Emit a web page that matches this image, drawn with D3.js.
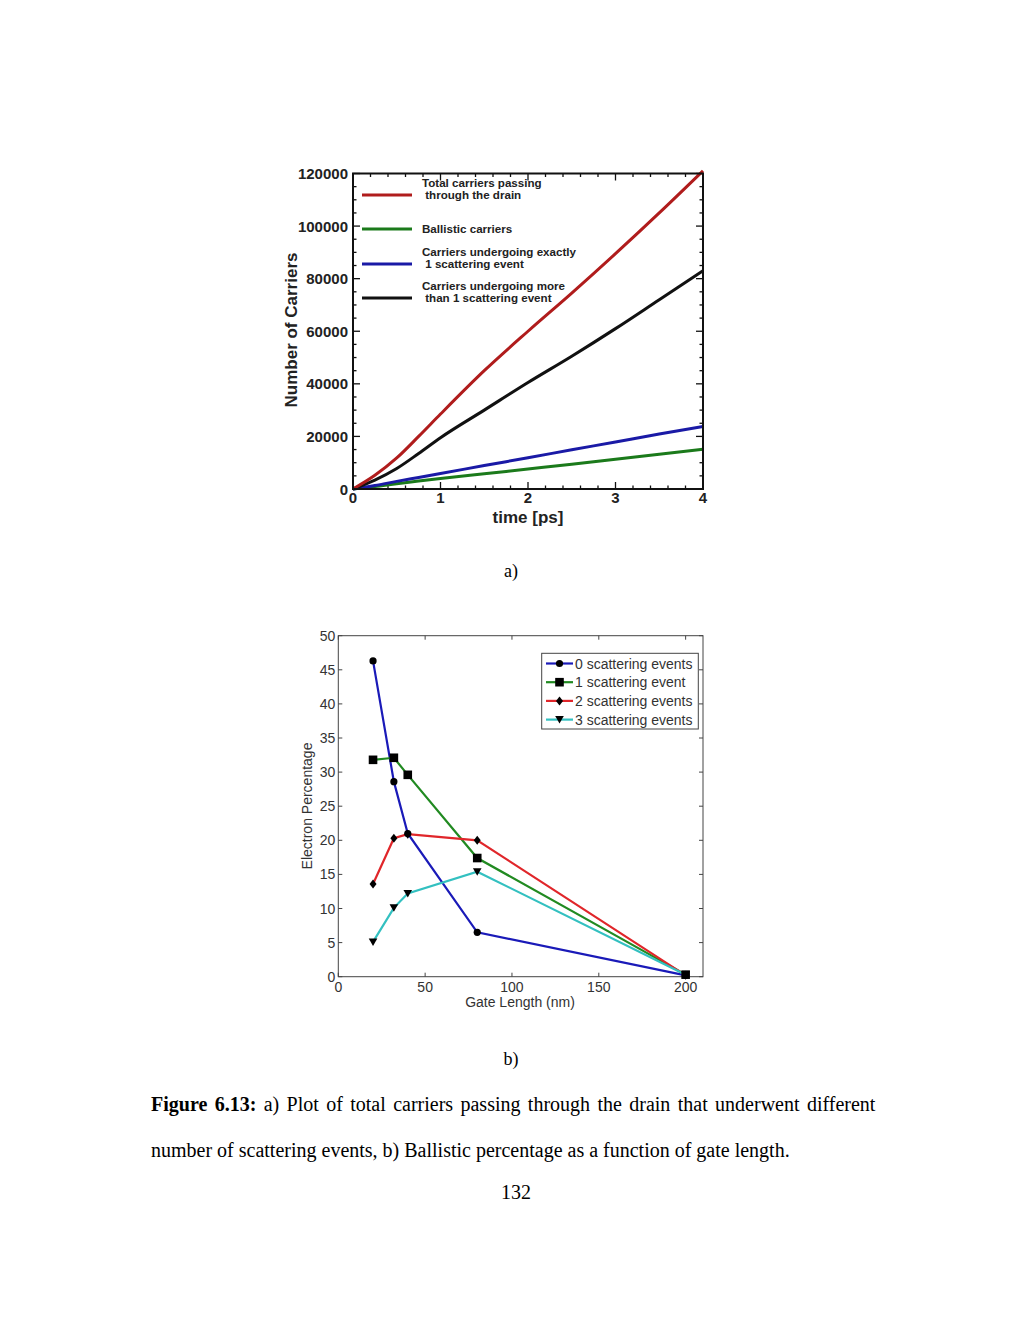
<!DOCTYPE html>
<html><head><meta charset="utf-8">
<script src="https://cdn.jsdelivr.net/npm/d3@7"></script>
<style>html,body{margin:0;padding:0;background:#fff;}svg{display:block;}</style>
</head><body>
<svg id="c" width="1024" height="1326"></svg>
<script>
// ---- Chart a) data ----
const timePs = [0, 0.25, 0.5, 0.75, 1, 1.5, 2, 2.5, 3, 3.5, 4];
const totalCarriers = [0, 5200, 11800, 20000, 28500, 45000, 60000, 74500, 89500, 105000, 121000];
const ballisticCarriers = [0, 900, 2000, 3000, 4000, 5800, 7600, 9400, 11300, 13200, 15100];
const oneScatterCarriers = [0, 1300, 2900, 4400, 5900, 8900, 11900, 14900, 17900, 20900, 23800];
const multiScatterCarriers = [0, 3400, 7800, 13500, 19500, 30000, 40500, 50500, 61000, 72000, 83000];
const aXTicks = [0, 1, 2, 3, 4];
const aYTicks = [0, 20000, 40000, 60000, 80000, 100000, 120000];
const aLegend = [
  ["Total carriers passing", " through the drain"],
  ["Ballistic carriers"],
  ["Carriers undergoing exactly", " 1 scattering event"],
  ["Carriers undergoing more", " than 1 scattering event"]
];

// ---- Chart b) data ----
const gateLength = [20, 32, 40, 80, 200];
const scat0 = [46.3, 28.6, 21.0, 6.5, 0.2];
const scat1 = [31.8, 32.1, 29.6, 17.4, 0.3];
const scat2 = [13.6, 20.3, 20.9, 20.0, 0.2];
const scat3 = [5.1, 10.1, 12.2, 15.4, 0.3];
const bXTicks = [0, 50, 100, 150, 200];
const bYTicks = [0, 5, 10, 15, 20, 25, 30, 35, 40, 45, 50];
const bLegend = ["0 scattering events", "1 scattering event", "2 scattering events", "3 scattering events"];

const svg = d3.select("#c");

// ================= Chart a =================
(function(){
  const L = 353, R = 703, T = 173.5, B = 489;
  const x = d3.scaleLinear().domain([0, 4]).range([L, R]);
  const y = d3.scaleLinear().domain([0, 120000]).range([B, T]);
  const g = svg.append("g");
  const font = "'Liberation Sans', Arial, sans-serif";

  const minorX = d3.range(0, 4.0001, 0.2);
  const minorY = d3.range(0, 120001, 5000);
  minorX.forEach(v => {
    const major = Math.abs(v - Math.round(v)) < 1e-6;
    const len = major ? 7 : 3.5;
    g.append("line").attr("x1", x(v)).attr("x2", x(v)).attr("y1", B).attr("y2", B - len).attr("stroke", "#111").attr("stroke-width", 1.3);
    g.append("line").attr("x1", x(v)).attr("x2", x(v)).attr("y1", T).attr("y2", T + len).attr("stroke", "#111").attr("stroke-width", 1.3);
  });
  minorY.forEach(v => {
    const major = v % 20000 === 0;
    const len = major ? 7 : 3.5;
    g.append("line").attr("y1", y(v)).attr("y2", y(v)).attr("x1", L).attr("x2", L + len).attr("stroke", "#111").attr("stroke-width", 1.3);
    g.append("line").attr("y1", y(v)).attr("y2", y(v)).attr("x1", R).attr("x2", R - len).attr("stroke", "#111").attr("stroke-width", 1.3);
  });

  const series = [
    {v: ballisticCarriers, c: "#1b7a1b"},
    {v: oneScatterCarriers, c: "#1a1aa6"},
    {v: multiScatterCarriers, c: "#111111"},
    {v: totalCarriers, c: "#b01c1c"}
  ];
  const line = d3.line().x((d,i) => x(timePs[i])).y(d => y(d)).curve(d3.curveMonotoneX);
  series.forEach(s => {
    g.append("path").datum(s.v).attr("d", line).attr("fill", "none").attr("stroke", s.c).attr("stroke-width", 3);
  });

  g.append("rect").attr("x", L).attr("y", T).attr("width", R - L).attr("height", B - T)
    .attr("fill", "none").attr("stroke", "#111").attr("stroke-width", 2);

  aXTicks.forEach(v => {
    g.append("text").attr("x", x(v)).attr("y", 503).attr("text-anchor", "middle")
      .attr("font-family", font).attr("font-weight", "bold").attr("font-size", 15).attr("fill", "#222").text(v);
  });
  aYTicks.forEach(v => {
    g.append("text").attr("x", 348).attr("y", y(v) + 5.5).attr("text-anchor", "end")
      .attr("font-family", font).attr("font-weight", "bold").attr("font-size", 15).attr("fill", "#222").text(v);
  });
  g.append("text").attr("x", 528).attr("y", 523).attr("text-anchor", "middle")
    .attr("font-family", font).attr("font-weight", "bold").attr("font-size", 17).attr("fill", "#222").text("time [ps]");
  g.append("text").attr("transform", "translate(297,330) rotate(-90)").attr("text-anchor", "middle")
    .attr("font-family", font).attr("font-weight", "bold").attr("font-size", 17).attr("fill", "#222").text("Number of Carriers");

  const legColors = ["#b01c1c", "#1b7a1b", "#1a1aa6", "#111111"];
  const legLineY = [195, 229, 264, 298];
  aLegend.forEach((lines, i) => {
    g.append("line").attr("x1", 362).attr("x2", 412).attr("y1", legLineY[i]).attr("y2", legLineY[i])
      .attr("stroke", legColors[i]).attr("stroke-width", 3);
    const firstY = lines.length === 2 ? legLineY[i] - 8 : legLineY[i] + 4;
    lines.forEach((t, j) => {
      g.append("text").attr("x", 422).attr("y", firstY + j * 11.5)
        .attr("font-family", font).attr("font-weight", "bold").attr("font-size", 11.6).attr("fill", "#222")
        .attr("xml:space", "preserve").style("white-space", "pre").text(t);
    });
  });
})();

// ================= Chart b =================
(function(){
  const L = 338.3, R = 703, T = 635.7, B = 976.7;
  const x = d3.scaleLinear().domain([0, 210]).range([L, R]);
  const y = d3.scaleLinear().domain([0, 50]).range([B, T]);
  const g = svg.append("g");
  const font = "'Liberation Sans', Arial, sans-serif";
  const ax = "#444";

  g.append("rect").attr("x", L).attr("y", T).attr("width", R - L).attr("height", B - T)
    .attr("fill", "#fff").attr("stroke", ax).attr("stroke-width", 1);

  bXTicks.forEach(v => {
    g.append("line").attr("x1", x(v)).attr("x2", x(v)).attr("y1", B).attr("y2", B - 4).attr("stroke", ax);
    g.append("line").attr("x1", x(v)).attr("x2", x(v)).attr("y1", T).attr("y2", T + 4).attr("stroke", ax);
    g.append("text").attr("x", x(v)).attr("y", 992).attr("text-anchor", "middle")
      .attr("font-family", font).attr("font-size", 14).attr("fill", "#333").text(v);
  });
  bYTicks.forEach(v => {
    g.append("line").attr("y1", y(v)).attr("y2", y(v)).attr("x1", L).attr("x2", L + 4).attr("stroke", ax);
    g.append("line").attr("y1", y(v)).attr("y2", y(v)).attr("x1", R).attr("x2", R - 4).attr("stroke", ax);
    g.append("text").attr("x", L - 3).attr("y", y(v) + 5).attr("text-anchor", "end")
      .attr("font-family", font).attr("font-size", 14).attr("fill", "#333").text(v);
  });
  g.append("text").attr("x", 520).attr("y", 1007).attr("text-anchor", "middle")
    .attr("font-family", font).attr("font-size", 14).attr("fill", "#333").text("Gate Length (nm)");
  g.append("text").attr("transform", "translate(312,806) rotate(-90)").attr("text-anchor", "middle")
    .attr("font-family", font).attr("font-size", 14).attr("fill", "#333").text("Electron Percentage");

  const sers = [
    {v: scat0, c: "#1a1ab8", m: "circle"},
    {v: scat1, c: "#218a21", m: "square"},
    {v: scat2, c: "#e0262a", m: "diamond"},
    {v: scat3, c: "#33c0c0", m: "tri"}
  ];
  const line = d3.line().x((d,i) => x(gateLength[i])).y(d => y(d));
  function marker(sel, type, cx, cy) {
    if (type === "circle") sel.append("circle").attr("cx", cx).attr("cy", cy).attr("r", 3.6).attr("fill", "#000");
    else if (type === "square") sel.append("rect").attr("x", cx - 4.3).attr("y", cy - 4.3).attr("width", 8.6).attr("height", 8.6).attr("fill", "#000");
    else if (type === "diamond") sel.append("path").attr("d", `M${cx},${cy-4.5}L${cx+3.5},${cy}L${cx},${cy+4.5}L${cx-3.5},${cy}Z`).attr("fill", "#000");
    else sel.append("path").attr("d", `M${cx-4.3},${cy-3.5}L${cx+4.3},${cy-3.5}L${cx},${cy+4}Z`).attr("fill", "#000");
  }
  sers.forEach(s => {
    g.append("path").datum(s.v).attr("d", line).attr("fill", "none").attr("stroke", s.c).attr("stroke-width", 2.2);
  });
  sers.forEach(s => {
    s.v.forEach((d, i) => marker(g, s.m, x(gateLength[i]), y(d)));
  });

  g.append("rect").attr("x", 541.7).attr("y", 653.3).attr("width", 156.6).attr("height", 75.7)
    .attr("fill", "#fff").attr("stroke", ax).attr("stroke-width", 1);
  bLegend.forEach((t, i) => {
    const yy = 663.5 + i * 18.7;
    g.append("line").attr("x1", 546).attr("x2", 573).attr("y1", yy).attr("y2", yy).attr("stroke", sers[i].c).attr("stroke-width", 2.2);
    marker(g, sers[i].m, 559.5, yy);
    g.append("text").attr("x", 575).attr("y", yy + 5)
      .attr("font-family", font).attr("font-size", 14).attr("fill", "#333").text(t);
  });
})();

// ================= Labels & caption =================
const serif = "'Liberation Serif', 'Times New Roman', serif";
svg.append("text").attr("x", 511).attr("y", 577).attr("text-anchor", "middle").attr("font-family", serif).attr("font-size", 18).text("a)");
svg.append("text").attr("x", 511).attr("y", 1065).attr("text-anchor", "middle").attr("font-family", serif).attr("font-size", 18).text("b)");
const cap1 = svg.append("text").attr("x", 151).attr("y", 1111).attr("font-family", serif).attr("font-size", 20);
cap1.append("tspan").attr("font-weight", "bold").text("Figure 6.13:");
cap1.append("tspan").text(" a) Plot of total carriers passing through the drain that underwent different");
const natural = cap1.node().getComputedTextLength();
const gaps = 12;
const extra = Math.max(0, (722 - natural) / gaps);
cap1.attr("word-spacing", extra);
svg.append("text").attr("x", 151).attr("y", 1157).attr("font-family", serif).attr("font-size", 20)
  .text("number of scattering events, b) Ballistic percentage as a function of gate length.");
svg.append("text").attr("x", 516).attr("y", 1199).attr("text-anchor", "middle").attr("font-family", serif).attr("font-size", 20).text("132");
</script>
</body></html>
